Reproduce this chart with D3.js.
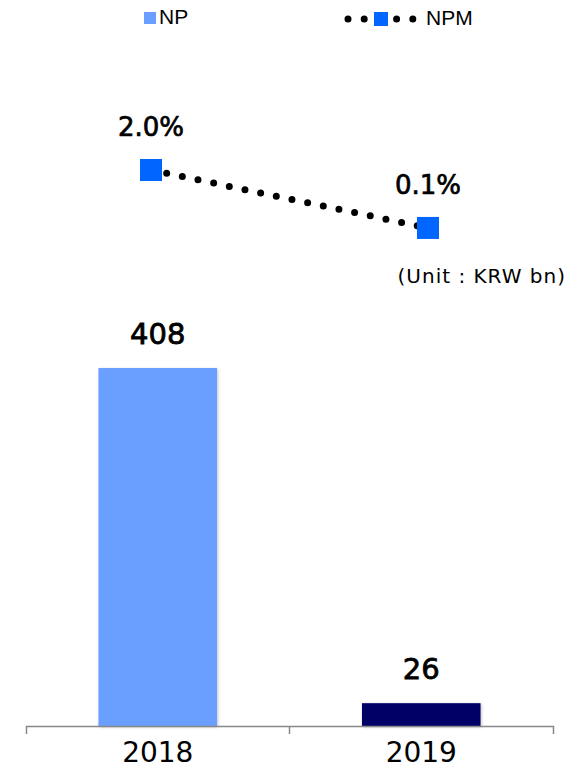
<html>
	<head>
		<script src="https://d3js.org/d3.v7.min.js"></script>
		<style>
			body { margin: 0; background: #fff; }
		</style>
	</head>
	<body>
		<svg width="583" height="776" font-family="'DejaVu Sans', sans-serif"></svg>
		<script>

		// data
		var years = ["2018", "2019"];
		var np = [408, 26];
		var npm = [2.0, 0.1];
		var npmLabels = ["2.0%", "0.1%"];
		var barColors = ["#6a9eff", "#000066"];

		var svg = d3.select("svg");

		var defs = svg.append("defs");
		var shadow = defs.append("filter").attr("id", "shadow")
			.attr("x", "-10%").attr("y", "-10%").attr("width", "130%").attr("height", "130%");
		shadow.append("feDropShadow")
			.attr("dx", 1).attr("dy", 1).attr("stdDeviation", 1.5)
			.attr("flood-color", "#000").attr("flood-opacity", 0.25);

		var x = d3.scaleBand().domain(years).range([26, 553]).padding(0);
		var y = d3.scaleLinear().domain([0, 500]).range([726, 287.3]);
		var barW = x.bandwidth() * 0.45;

		// line chart sits on its own scales
		var xl = d3.scalePoint().domain(years).range([151, 428]);
		var yl = d3.scaleLinear().domain([0, 2]).range([231, 170]);

		// bars
		svg.append("g").selectAll("rect")
			.data(years)
			.enter().append("rect")
			.attr("x", function(d) { return x(d) + (x.bandwidth() - barW) / 2; })
			.attr("y", function(d, i) { return y(np[i]); })
			.attr("width", barW)
			.attr("height", function(d, i) { return y(0) - y(np[i]); })
			.attr("fill", function(d, i) { return barColors[i]; })
			.attr("filter", "url(#shadow)");

		svg.append("g").selectAll("text")
			.data(years)
			.enter().append("text")
			.attr("x", function(d) { return x(d) + x.bandwidth() / 2; })
			.attr("y", function(d, i) { return y(np[i]) - 24; })
			.attr("text-anchor", "middle")
			.attr("font-size", 29)
			.attr("stroke", "#000")
			.attr("stroke-width", 0.8)
			.text(function(d, i) { return np[i]; });

		// x axis, ticks between categories
		var axis = svg.append("g")
			.attr("transform", "translate(0," + y(0) + ")")
			.call(d3.axisBottom(x).tickSizeInner(0).tickSizeOuter(8).tickPadding(16));
		axis.attr("font-family", null);
		axis.select(".domain").attr("stroke", "#888").attr("stroke-width", 1.5);
		axis.selectAll(".tick text")
			.attr("font-size", 28)
			.attr("fill", "#000");
		axis.append("line")
			.attr("x1", x(years[1])).attr("x2", x(years[1]))
			.attr("y1", 0).attr("y2", 8)
			.attr("stroke", "#888").attr("stroke-width", 1.5);

		// NPM dotted line
		var line = d3.line()
			.x(function(d, i) { return xl(years[i]); })
			.y(function(d) { return yl(d); });

		svg.append("path")
			.datum(npm)
			.attr("fill", "none")
			.attr("stroke", "#000")
			.attr("stroke-width", 7)
			.attr("stroke-linecap", "round")
			.attr("stroke-dasharray", "0 16")
			.attr("d", line);

		svg.append("g").selectAll("rect")
			.data(npm)
			.enter().append("rect")
			.attr("x", function(d, i) { return xl(years[i]) - 11; })
			.attr("y", function(d) { return yl(d) - 11; })
			.attr("width", 22)
			.attr("height", 22)
			.attr("fill", "#0066ff");

		svg.append("g").selectAll("text")
			.data(npm)
			.enter().append("text")
			.attr("x", function(d, i) { return xl(years[i]); })
			.attr("y", function(d) { return yl(d) - 34; })
			.attr("text-anchor", "middle")
			.attr("font-size", 26)
			.attr("stroke", "#000")
			.attr("stroke-width", 0.7)
			.text(function(d, i) { return npmLabels[i]; });

		svg.append("text")
			.attr("x", 566)
			.attr("y", 283)
			.attr("text-anchor", "end")
			.attr("font-size", 20)
			.attr("letter-spacing", 1)
			.text("(Unit : KRW bn)");

		// legend
		var legend = svg.append("g")
			.attr("font-family", "'Liberation Sans', Arial, sans-serif")
			.attr("font-size", 21);
		legend.append("rect")
			.attr("x", 144).attr("y", 12).attr("width", 12).attr("height", 12)
			.attr("fill", "#6a9eff");
		legend.append("text")
			.attr("x", 159).attr("y", 24)
			.text("NP");

		legend.append("path")
			.attr("d", "M348,19H413.5")
			.attr("stroke", "#000")
			.attr("stroke-width", 7)
			.attr("stroke-linecap", "round")
			.attr("stroke-dasharray", "0 16.2");
		legend.append("rect")
			.attr("x", 374).attr("y", 12).attr("width", 14).attr("height", 14)
			.attr("fill", "#0066ff");
		legend.append("text")
			.attr("x", 426).attr("y", 25)
			.text("NPM");

		</script>
	</body>
</html>
